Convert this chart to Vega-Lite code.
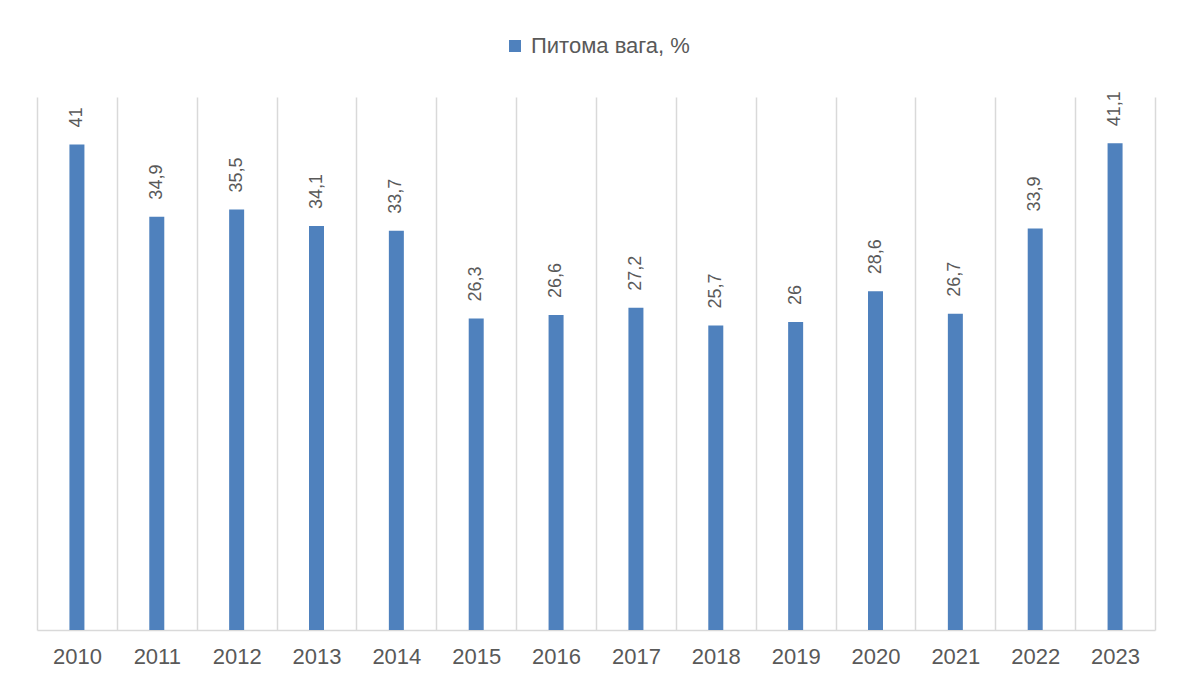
{
  "$schema": "https://vega.github.io/schema/vega-lite/v6.json",
  "autosize": {"type": "none"},
  "width": 1118,
  "height": 533,
  "padding": {"left": 37, "top": 97, "right": 25, "bottom": 54},
  "background": "white",
  "config": {
    "view": {"stroke": null},
    "font": "Liberation Sans"
  },
  "data": {
    "values": [
      {"year": "2010", "value": 41, "label": "41"},
      {"year": "2011", "value": 34.9, "label": "34,9"},
      {"year": "2012", "value": 35.5, "label": "35,5"},
      {"year": "2013", "value": 34.1, "label": "34,1"},
      {"year": "2014", "value": 33.7, "label": "33,7"},
      {"year": "2015", "value": 26.3, "label": "26,3"},
      {"year": "2016", "value": 26.6, "label": "26,6"},
      {"year": "2017", "value": 27.2, "label": "27,2"},
      {"year": "2018", "value": 25.7, "label": "25,7"},
      {"year": "2019", "value": 26, "label": "26"},
      {"year": "2020", "value": 28.6, "label": "28,6"},
      {"year": "2021", "value": 26.7, "label": "26,7"},
      {"year": "2022", "value": 33.9, "label": "33,9"},
      {"year": "2023", "value": 41.1, "label": "41,1"}
    ]
  },
  "encoding": {
    "x": {
      "field": "year",
      "type": "nominal",
      "scale": {"paddingInner": 0, "paddingOuter": 0},
      "axis": {
        "title": null,
        "labelAngle": 0,
        "labelFont": "Liberation Sans",
        "labelFontSize": 22,
        "labelColor": "#595959",
        "labelPadding": 16,
        "ticks": false,
        "grid": true,
        "tickBand": "extent",
        "gridColor": "#d9d9d9",
        "gridWidth": 1.5,
        "domainColor": "#d9d9d9",
        "domainWidth": 1.5
      }
    },
    "y": {
      "field": "value",
      "type": "quantitative",
      "scale": {"domain": [0, 45]},
      "axis": null
    }
  },
  "layer": [
    {
      "mark": {"type": "bar", "size": 15, "color": "#4F81BD"},
      "encoding": {
        "color": {
          "datum": "Питома вага, %",
          "type": "nominal",
          "scale": {"range": ["#4F81BD"]},
          "legend": {
            "title": null,
            "orient": "none",
            "legendX": 467,
            "legendY": -62,
            "symbolType": "square",
            "symbolSize": 144,
            "symbolStrokeWidth": 0,
            "labelFontSize": 22,
            "labelColor": "#595959",
            "labelFont": "Liberation Sans",
            "labelOffset": 5
          }
        }
      }
    },
    {
      "mark": {
        "type": "text",
        "angle": 270,
        "align": "left",
        "baseline": "middle",
        "dx": 17,
        "fontSize": 18,
        "color": "#595959",
        "font": "Liberation Sans"
      },
      "encoding": {"text": {"field": "label"}}
    }
  ]
}
